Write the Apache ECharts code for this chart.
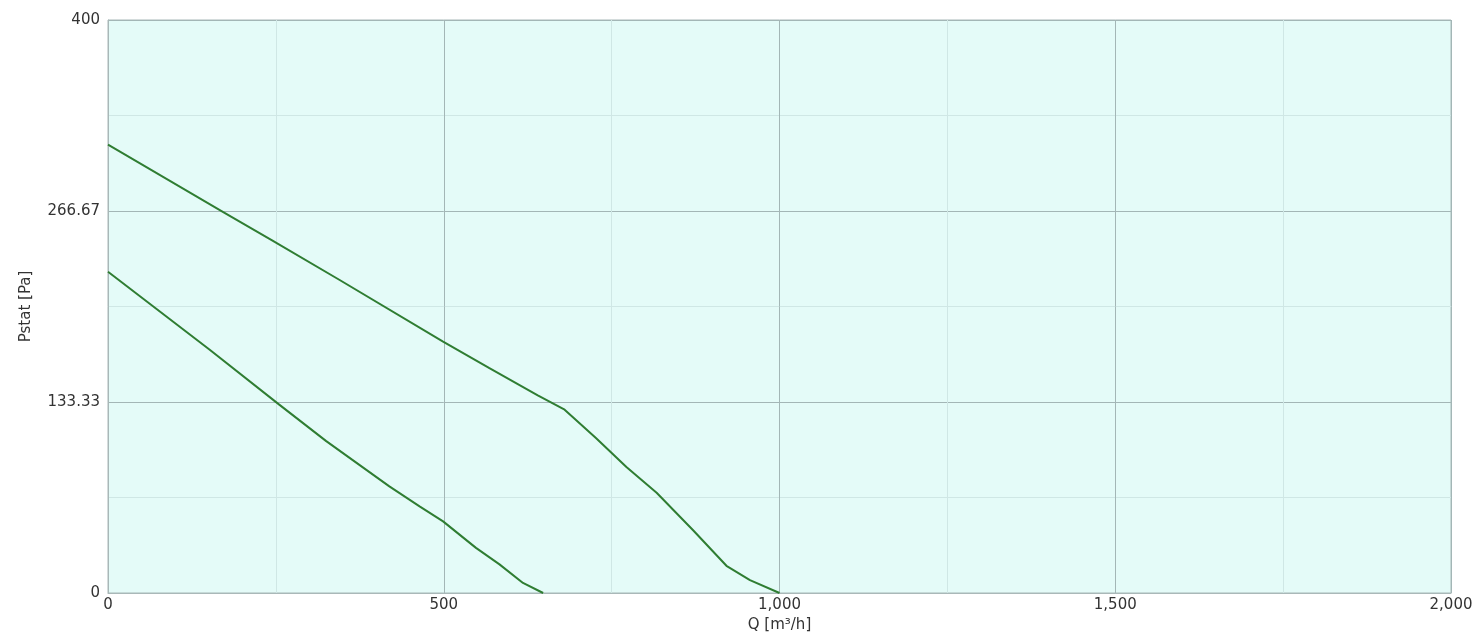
<!DOCTYPE html>
<html>
<head>
<meta charset="utf-8">
<script src="https://cdn.jsdelivr.net/npm/echarts@6/dist/echarts.min.js"></script>
<style>
html,body{margin:0;padding:0;background:#fff;}
#chart{width:1479px;height:643px;}
</style>
</head>
<body>
<div id="chart"></div>
<script>
// Upper curve: Q [m³/h] and Pstat [Pa]
const upperQ = [0, 171, 245, 345, 499, 568, 640, 680, 727, 772, 817, 871, 921, 956, 1000];
const upperP = [313, 266, 246, 218.5, 175.5, 157, 138, 128, 108, 88, 70, 44, 19, 9, 0];
// Lower curve
const lowerQ = [0, 151, 255, 325, 419, 464, 499, 548, 583, 618, 648];
const lowerP = [224.3, 170, 131.5, 106, 74.4, 60.5, 50, 31.5, 20, 7, 0];
// Axis ticks
const xTicks = [0, 500, 1000, 1500, 2000];
const yTicks = [0, 133.33, 266.67, 400];

const pair = (xs, ys) => xs.map((x, i) => [x, ys[i]]);
const font = 'DejaVu Sans';
const chart = echarts.init(document.getElementById('chart'), null, {renderer: 'canvas'});
chart.setOption({
  animation: false,
  backgroundColor: '#ffffff',
  grid: {
    left: 108, right: 28, top: 20, bottom: 50,
    show: true, backgroundColor: '#e4fbf8', borderColor: '#a9b8b8', borderWidth: 1
  },
  xAxis: {
    type: 'value', min: xTicks[0], max: xTicks[xTicks.length - 1], interval: xTicks[1] - xTicks[0],
    name: 'Q [m³/h]', nameLocation: 'middle', nameGap: 22,
    nameTextStyle: {fontFamily: font, fontSize: 15, color: '#333'},
    axisLine: {show: true, lineStyle: {color: '#a9b8b8'}},
    axisTick: {show: false},
    axisLabel: {fontFamily: font, fontSize: 15, color: '#333', margin: 5,
      formatter: v => v.toLocaleString('en-US')},
    splitLine: {show: true, lineStyle: {color: '#a3b6b6', width: 1}},
    minorTick: {show: false, splitNumber: 2},
    minorSplitLine: {show: true, lineStyle: {color: '#cfe7e5', width: 1}}
  },
  yAxis: {
    type: 'value', min: 0, max: 400, interval: 400 / 3,
    name: 'Pstat [Pa]', nameLocation: 'middle', nameGap: 74, nameRotate: 90,
    nameTextStyle: {fontFamily: font, fontSize: 15, color: '#333'},
    axisLine: {show: true, lineStyle: {color: '#a9b8b8'}},
    axisTick: {show: false},
    axisLabel: {fontFamily: font, fontSize: 15, color: '#333', margin: 8,
      formatter: v => {
        const r = Math.round(v * 100) / 100;
        const hit = yTicks.find(t => Math.abs(t - r) < 0.02);
        return String(hit !== undefined ? hit : r);
      }},
    splitLine: {show: true, lineStyle: {color: '#a3b6b6', width: 1}},
    minorTick: {show: false, splitNumber: 2},
    minorSplitLine: {show: true, lineStyle: {color: '#cfe7e5', width: 1}}
  },
  series: [
    {type: 'line', data: pair(upperQ, upperP), showSymbol: false, smooth: false,
     lineStyle: {color: '#2f7d32', width: 2}},
    {type: 'line', data: pair(lowerQ, lowerP), showSymbol: false, smooth: false,
     lineStyle: {color: '#2f7d32', width: 2}}
  ]
});
</script>
</body>
</html>
